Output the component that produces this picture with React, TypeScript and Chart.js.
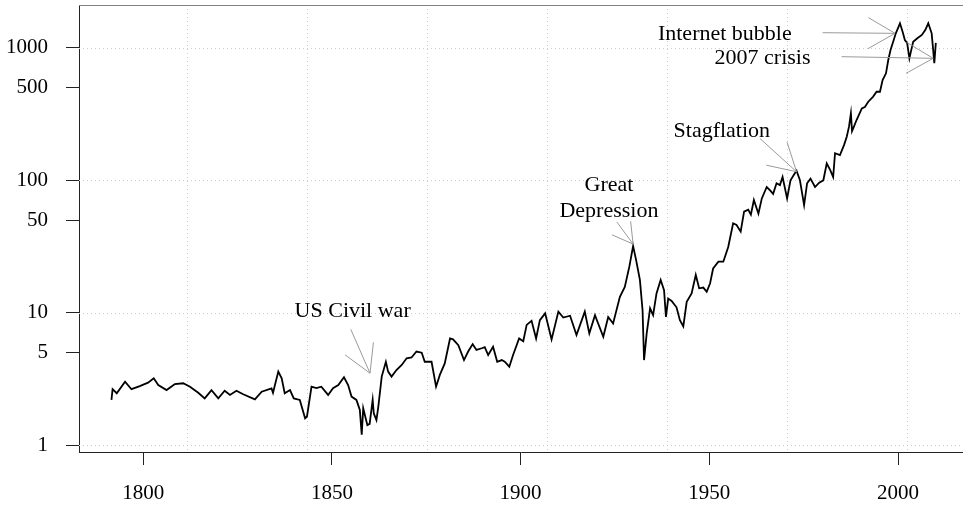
import React, { useEffect, useRef } from "react";
import { Chart, registerables } from "chart.js";

Chart.register(...registerables);

// ---- data ----
const years = [
  1791.6, 1791.9, 1793.0, 1795.2, 1796.9, 1799.1, 1801.3, 1802.8, 1804.0, 1806.2,
  1808.4, 1810.6, 1812.4, 1814.6, 1816.3, 1818.1, 1819.9, 1821.6, 1823.0, 1824.7,
  1826.5, 1829.6, 1831.4, 1834.0, 1834.4, 1835.8, 1836.7, 1837.5, 1838.9, 1839.9,
  1841.5, 1842.9, 1843.4, 1844.6, 1845.9, 1847.2, 1849.0, 1850.3, 1851.7, 1853.2,
  1854.3, 1855.2, 1856.5, 1857.4, 1857.9, 1858.3, 1859.4, 1860.0, 1860.8, 1861.1,
  1861.8, 1862.3, 1863.2, 1864.3, 1864.9, 1865.8, 1867.1, 1868.5, 1869.8, 1871.1,
  1872.4, 1873.8, 1874.6, 1876.4, 1877.6, 1878.6, 1879.9, 1881.3, 1882.1, 1883.5,
  1885.0, 1886.1, 1887.3, 1888.3, 1889.7, 1890.5, 1891.4, 1892.7, 1893.8, 1895.0,
  1895.8, 1897.0, 1898.0, 1899.6, 1900.7, 1901.6, 1902.9, 1904.1, 1905.1, 1906.5,
  1908.2, 1910.0, 1911.3, 1913.1, 1914.8, 1917.0, 1918.2, 1919.7, 1921.9, 1923.2,
  1924.5, 1926.3, 1927.6, 1928.8, 1929.8, 1930.6, 1931.6, 1932.3, 1932.7, 1933.4,
  1934.3, 1935.1, 1936.0, 1937.1, 1938.0, 1938.5, 1939.1, 1940.0, 1941.3, 1942.2,
  1943.1, 1944.0, 1945.3, 1946.4, 1947.3, 1948.4, 1949.3, 1950.2, 1951.0, 1952.4,
  1953.7, 1955.0, 1956.3, 1957.2, 1958.3, 1959.2, 1960.3, 1961.0, 1961.8, 1963.0,
  1963.9, 1965.2, 1966.1, 1966.9, 1967.8, 1968.7, 1969.4, 1970.6, 1971.5, 1972.4,
  1973.1, 1974.0, 1975.1, 1975.9, 1976.8, 1978.0, 1979.1, 1980.2, 1981.1, 1982.0,
  1982.8, 1983.3, 1984.6, 1985.7, 1986.4, 1987.0, 1987.5, 1987.8, 1988.3, 1989.0,
  1990.4, 1991.2, 1992.1, 1993.4, 1994.3, 1995.2, 1995.9, 1996.8, 1997.4, 1998.0,
  1998.7, 1999.4, 2000.5, 2001.2, 2001.8, 2002.4, 2003.0, 2003.4, 2004.0, 2005.1,
  2006.3, 2007.2, 2008.0, 2008.9, 2009.3, 2009.6, 2010.0,
];
const values = [
  2.2, 2.65, 2.47, 3.02, 2.65, 2.8, 2.97, 3.2, 2.85, 2.61,
  2.9, 2.94, 2.77, 2.49, 2.26, 2.61, 2.26, 2.58, 2.4, 2.58,
  2.43, 2.22, 2.54, 2.69, 2.49, 3.6, 3.2, 2.47, 2.61, 2.26,
  2.2, 1.6, 1.65, 2.77, 2.7, 2.77, 2.4, 2.7, 2.85, 3.26,
  2.85, 2.33, 2.2, 1.85, 1.2, 1.9, 1.42, 1.45, 2.2, 1.74,
  1.55, 1.96, 3.3, 4.27, 3.6, 3.3, 3.7, 4.04, 4.54, 4.6,
  5.1, 5.0, 4.27, 4.27, 2.77, 3.4, 4.15, 6.4, 6.3, 5.7,
  4.4, 5.1, 5.8, 5.25, 5.4, 5.5, 4.8, 5.55, 4.27, 4.4,
  4.27, 3.92, 4.8, 6.4, 6.1, 8.1, 8.7, 6.4, 8.8, 9.9,
  6.3, 10.2, 9.2, 9.5, 6.8, 10.2, 7.0, 9.6, 6.6, 9.3,
  8.3, 13.2, 15.7, 22.3, 31.9, 25, 17.7, 10.5, 4.4, 7.0,
  10.8, 9.6, 14, 17.7, 14.8, 9.3, 12.8, 12.3, 11, 8.8,
  7.9, 12.1, 14, 19.3, 15.3, 15.5, 14.4, 16.7, 21.6, 24.3,
  24.3, 31.4, 47.4, 46, 41, 58, 60, 55, 71, 56,
  73, 89, 84, 79, 95, 92, 106, 73, 100, 110,
  118, 100, 65, 95, 103, 89, 96, 100, 134, 120,
  106, 160, 155, 185, 213, 254, 320, 235, 254, 285,
  349, 357, 392, 428, 466, 466, 571, 642, 809, 962,
  1112, 1286, 1531, 1322, 1145, 1090, 833, 935, 1112, 1180,
  1250, 1362, 1531, 1286, 962, 764, 1090,
];

const yTickValues = [1, 5, 10, 50, 100, 500, 1000];
const xTickYears = [1800, 1850, 1900, 1950, 2000];
const hGridValues = [1, 10, 100, 1000];
const vGridYears = [1811.5, 1843.3, 1875.1, 1906.9, 1938.7, 1970.5, 2002.3];

const annLabels = [["US Civil war"], ["Great", "Depression"], ["Stagflation"], ["Internet bubble"], ["2007 crisis"]];
const annTextYear = [1855.5, 1923.4, 1953.3, 1954.1, 1964.1];
const annTextValue = [9.25, 83.5, 213, 1145, 750];
const annTipYear = [1860.1, 1929.8, 1973.1, 1999.2, 2009.3];
const annTipValue = [3.5, 33, 116, 1286, 833];
const annTailYear = [1855.0, 1925.5, 1963.4, 1980.0, 1985.05];
const annTailValue = [7.5, 48.5, 207, 1300, 857];
const annHeadLen = [31, 23, 31, 31, 31];

const FONT = '"Liberation Serif", "Times New Roman", serif';

const decorPlugin = {
  id: "decor",
  beforeDatasetsDraw(chart: any) {
    const { ctx, chartArea: a, scales } = chart;
    const x = scales.x;
    const y = scales.y;
    ctx.save();
    ctx.strokeStyle = "#cccccc";
    ctx.lineWidth = 1;
    ctx.setLineDash([1, 3]);
    hGridValues.forEach((v) => {
      const py = Math.round(y.getPixelForValue(v)) + 0.5;
      ctx.beginPath();
      ctx.moveTo(a.left, py);
      ctx.lineTo(a.right, py);
      ctx.stroke();
    });
    vGridYears.forEach((yr) => {
      const px = Math.round(x.getPixelForValue(yr)) + 0.5;
      ctx.beginPath();
      ctx.moveTo(px, a.top);
      ctx.lineTo(px, a.bottom);
      ctx.stroke();
    });
    ctx.setLineDash([]);
    ctx.strokeStyle = "#808080";
    ctx.beginPath();
    ctx.moveTo(a.left, Math.round(a.top) + 0.5);
    ctx.lineTo(a.right, Math.round(a.top) + 0.5);
    ctx.stroke();
    ctx.restore();
  },
  afterDatasetsDraw(chart: any) {
    const { ctx, scales } = chart;
    const x = scales.x;
    const y = scales.y;
    ctx.save();
    ctx.strokeStyle = "#9a9a9a";
    ctx.lineWidth = 1;
    annLabels.forEach((lines, i) => {
      const tx = x.getPixelForValue(annTipYear[i]);
      const ty = y.getPixelForValue(annTipValue[i]);
      const sx = x.getPixelForValue(annTailYear[i]);
      const sy = y.getPixelForValue(annTailValue[i]);
      const ang = Math.atan2(sy - ty, sx - tx);
      const L = annHeadLen[i];
      ctx.beginPath();
      ctx.moveTo(sx, sy);
      ctx.lineTo(tx, ty);
      ctx.moveTo(tx + L * Math.cos(ang + Math.PI / 6), ty + L * Math.sin(ang + Math.PI / 6));
      ctx.lineTo(tx, ty);
      ctx.lineTo(tx + L * Math.cos(ang - Math.PI / 6), ty + L * Math.sin(ang - Math.PI / 6));
      ctx.stroke();

      ctx.fillStyle = "#000";
      ctx.font = `22px ${FONT}`;
      ctx.textAlign = "center";
      ctx.textBaseline = "alphabetic";
      const cx = x.getPixelForValue(annTextYear[i]);
      const by = y.getPixelForValue(annTextValue[i]);
      lines.forEach((t, k) => ctx.fillText(t, cx, by + k * 26.6));
    });
    ctx.restore();
  },
};

export default function App() {
  const ref = useRef<HTMLCanvasElement>(null);
  useEffect(() => {
    if (!ref.current) return;
    const chart = new Chart(ref.current, {
      type: "line",
      data: {
        datasets: [
          {
            data: years.map((yr, i) => ({ x: yr, y: values[i] })),
            borderColor: "#000",
            borderWidth: 1.8,
            pointRadius: 0,
            tension: 0,
            fill: false,
          },
        ],
      },
      options: {
        animation: false,
        responsive: false,
        devicePixelRatio: 1,
        layout: { padding: { top: 5, right: 0, left: 0, bottom: 0 } },
        plugins: { legend: { display: false }, tooltip: { enabled: false } },
        scales: {
          x: {
            type: "linear",
            bounds: "data",
            min: 1783,
            max: 2017.2,
            afterBuildTicks: (s: any) => {
              s.ticks = xTickYears.map((v) => ({ value: v }));
            },
            afterFit: (s: any) => {
              s.height = 55;
              s.paddingLeft = 0;
              s.paddingRight = 0;
            },
            ticks: {
              autoSkip: false,
              maxRotation: 0,
              color: "#000",
              padding: 16,
              font: { family: FONT, size: 21 },
              callback: (v: any) => String(v),
            },
            grid: { drawOnChartArea: false, drawTicks: true, tickLength: 13, tickColor: "#222", tickWidth: 1 },
            border: { display: true, color: "#222", width: 1 },
          },
          y: {
            type: "logarithmic",
            bounds: "data",
            min: 0.89,
            max: 2104,
            afterBuildTicks: (s: any) => {
              s.ticks = yTickValues.map((v) => ({ value: v }));
            },
            afterFit: (s: any) => {
              s.width = 79;
              s.paddingTop = 0;
              s.paddingBottom = 0;
            },
            ticks: {
              autoSkip: false,
              color: "#000",
              padding: 18,
              font: { family: FONT, size: 21 },
              callback: (v: any) => String(v),
            },
            grid: { drawOnChartArea: false, drawTicks: true, tickLength: 13, tickColor: "#222", tickWidth: 1 },
            border: { display: true, color: "#222", width: 1 },
          },
        },
      },
      plugins: [decorPlugin],
    } as any);
    return () => chart.destroy();
  }, []);
  return (
    <div style={{ position: "fixed", left: 0, top: 0, width: 963, height: 507, background: "#fff" }}>
      <canvas ref={ref} width={963} height={507} style={{ display: "block", width: 963, height: 507 }} />
    </div>
  );
}
